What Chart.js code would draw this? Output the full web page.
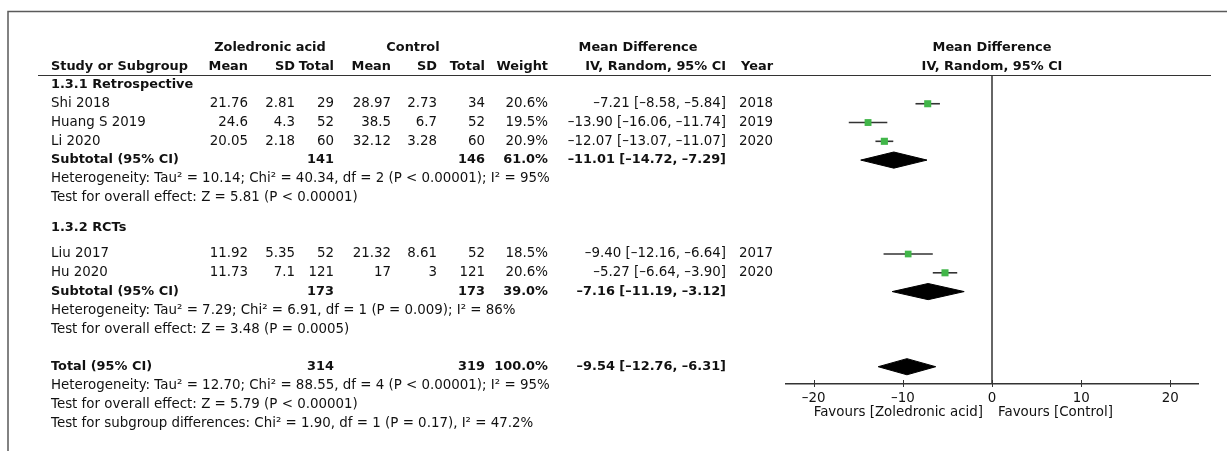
<!DOCTYPE html>
<html><head><meta charset="utf-8">
<script src="https://cdn.jsdelivr.net/npm/chart.js@4/dist/chart.umd.min.js"></script>
<style>html,body{margin:0;padding:0;background:#fff}#wrap{width:1227px;height:451px;position:relative}</style>
</head><body><div id="wrap"><canvas id="c" width="1227" height="451"></canvas></div>
<script>
// ---------- data ----------
const groupNames = ["1.3.1 Retrospective", "1.3.2 RCTs"];
const studies = ["Shi 2018", "Huang S 2019", "Li 2020", "Liu 2017", "Hu 2020"];
const studyGroup = [0, 0, 0, 1, 1];
const zMean = [21.76, 24.6, 20.05, 11.92, 11.73];
const zSD = [2.81, 4.3, 2.18, 5.35, 7.1];
const zN = [29, 52, 60, 52, 121];
const cMean = [28.97, 38.5, 32.12, 21.32, 17];
const cSD = [2.73, 6.7, 3.28, 8.61, 3];
const cN = [34, 52, 60, 52, 121];
const weights = [20.6, 19.5, 20.9, 18.5, 20.6];
const md = [-7.21, -13.90, -12.07, -9.40, -5.27];
const mdLo = [-8.58, -16.06, -13.07, -12.16, -6.64];
const mdHi = [-5.84, -11.74, -11.07, -6.64, -3.90];
const years = [2018, 2019, 2020, 2017, 2020];

const subZN = [141, 173];
const subCN = [146, 173];
const subW = [61.0, 39.0];
const subMD = [-11.01, -7.16];
const subLo = [-14.72, -11.19];
const subHi = [-7.29, -3.12];
const subHet = [
  "Heterogeneity: Tau² = 10.14; Chi² = 40.34, df = 2 (P < 0.00001); I² = 95%",
  "Heterogeneity: Tau² = 7.29; Chi² = 6.91, df = 1 (P = 0.009); I² = 86%"
];
const subTest = [
  "Test for overall effect: Z = 5.81 (P < 0.00001)",
  "Test for overall effect: Z = 3.48 (P = 0.0005)"
];

const totZN = 314, totCN = 319, totW = 100.0;
const totMD = -9.54, totLo = -12.76, totHi = -6.31;
const totNotes = [
  "Heterogeneity: Tau² = 12.70; Chi² = 88.55, df = 4 (P < 0.00001); I² = 95%",
  "Test for overall effect: Z = 5.79 (P < 0.00001)",
  "Test for subgroup differences: Chi² = 1.90, df = 1 (P = 0.17), I² = 47.2%"
];
const xTicks = [-20, -10, 0, 10, 20];
const favours = ["Favours [Zoledronic acid]", "Favours [Control]"];

// ---------- layout (rows) ----------
const ROW = {
  head1: -2, head2: -1,
  groupHead: [0, 7.6],
  studyRows: [1, 2, 3, 9, 10],
  sub: [4, 11], het: [5, 12], test: [6, 13],
  total: 15, totNotes: [16, 17, 18]
};
const COL = {study: 51, zMean: 248, zSD: 295, zN: 334, cMean: 391, cSD: 437, cN: 485, w: 548, ci: 726, year: 773};
const FAM = '"DejaVu Sans", sans-serif';
const FS = 13.4;
const FSB = 12.9;
const DIAM_H = 0.43;

const neg = s => s.replace(/-/g, '\u2013');
const f2 = v => neg(v.toFixed(2));
const ciStr = (m, l, h) => `${f2(m)} [${f2(l)}, ${f2(h)}]`;

// ---------- datasets ----------
const datasets = [];
studies.forEach((s, i) => {
  datasets.push({
    data: [{x: mdLo[i], y: ROW.studyRows[i]}, {x: mdHi[i], y: ROW.studyRows[i]}],
    showLine: true, borderColor: '#333', borderWidth: 1.6, pointRadius: 0, order: 3
  });
});
datasets.push({
  data: studies.map((s, i) => ({x: md[i], y: ROW.studyRows[i]})),
  pointStyle: 'rect',
  pointRadius: weights.map(w => 1.1 * Math.sqrt(w)),
  backgroundColor: '#41b649', borderColor: '#41b649', borderWidth: 0, order: 2
});
function diamond(m, l, h, r) {
  return {
    data: [{x: l, y: r}, {x: m, y: r - DIAM_H}, {x: h, y: r}, {x: m, y: r + DIAM_H}, {x: l, y: r}],
    showLine: true, fill: 'shape', backgroundColor: '#000', borderColor: '#000',
    borderWidth: 1, pointRadius: 0, tension: 0, order: 1
  };
}
subMD.forEach((m, g) => datasets.push(diamond(m, subLo[g], subHi[g], ROW.sub[g])));
datasets.push(diamond(totMD, totLo, totHi, ROW.total));

// ---------- table plugin ----------
const tablePlugin = {
  id: 'table',
  afterDraw(chart) {
    const ctx = chart.ctx, y = chart.scales.y, x = chart.scales.x;
    const T = (s, px, py, align, bold) => {
      ctx.font = (bold ? 'bold ' + FSB : FS) + 'px ' + FAM;
      ctx.textAlign = align; ctx.textBaseline = 'middle'; ctx.fillStyle = '#111';
      ctx.fillText(s, px, py);
    };
    const R = (s, px, r, align, bold) => T(s, px, y.getPixelForValue(r), align, bold);
    ctx.save();
    // frame
    ctx.strokeStyle = '#5a5a5a'; ctx.lineWidth = 1.5;
    ctx.beginPath(); ctx.moveTo(8, 451); ctx.lineTo(8, 11.5); ctx.lineTo(1227, 11.5); ctx.stroke();
    // header underline
    ctx.strokeStyle = '#333'; ctx.lineWidth = 1.2;
    ctx.beginPath(); ctx.moveTo(38, 75.5); ctx.lineTo(1211, 75.5); ctx.stroke();
    // headers
    R('Zoledronic acid', 270, ROW.head1, 'center', true);
    R('Control', 413, ROW.head1, 'center', true);
    R('Mean Difference', 638, ROW.head1, 'center', true);
    R('Mean Difference', 992, ROW.head1, 'center', true);
    R('Study or Subgroup', COL.study, ROW.head2, 'left', true);
    R('Mean', COL.zMean, ROW.head2, 'right', true);
    R('SD', COL.zSD, ROW.head2, 'right', true);
    R('Total', COL.zN, ROW.head2, 'right', true);
    R('Mean', COL.cMean, ROW.head2, 'right', true);
    R('SD', COL.cSD, ROW.head2, 'right', true);
    R('Total', COL.cN, ROW.head2, 'right', true);
    R('Weight', COL.w, ROW.head2, 'right', true);
    R('IV, Random, 95% CI', COL.ci, ROW.head2, 'right', true);
    R('Year', COL.year, ROW.head2, 'right', true);
    R('IV, Random, 95% CI', 992, ROW.head2, 'center', true);
    // groups
    groupNames.forEach((g, gi) => {
      R(g, COL.study, ROW.groupHead[gi], 'left', true);
      R('Subtotal (95% CI)', COL.study, ROW.sub[gi], 'left', true);
      R(String(subZN[gi]), COL.zN, ROW.sub[gi], 'right', true);
      R(String(subCN[gi]), COL.cN, ROW.sub[gi], 'right', true);
      R(subW[gi].toFixed(1) + '%', COL.w, ROW.sub[gi], 'right', true);
      R(ciStr(subMD[gi], subLo[gi], subHi[gi]), COL.ci, ROW.sub[gi], 'right', true);
      R(subHet[gi], COL.study, ROW.het[gi], 'left', false);
      R(subTest[gi], COL.study, ROW.test[gi], 'left', false);
    });
    studies.forEach((s, i) => {
      const r = ROW.studyRows[i];
      R(s, COL.study, r, 'left');
      R(String(zMean[i]), COL.zMean, r, 'right');
      R(String(zSD[i]), COL.zSD, r, 'right');
      R(String(zN[i]), COL.zN, r, 'right');
      R(String(cMean[i]), COL.cMean, r, 'right');
      R(String(cSD[i]), COL.cSD, r, 'right');
      R(String(cN[i]), COL.cN, r, 'right');
      R(weights[i].toFixed(1) + '%', COL.w, r, 'right');
      R(ciStr(md[i], mdLo[i], mdHi[i]), COL.ci, r, 'right');
      R(String(years[i]), COL.year, r, 'right');
    });
    // total
    R('Total (95% CI)', COL.study, ROW.total, 'left', true);
    R(String(totZN), COL.zN, ROW.total, 'right', true);
    R(String(totCN), COL.cN, ROW.total, 'right', true);
    R(totW.toFixed(1) + '%', COL.w, ROW.total, 'right', true);
    R(ciStr(totMD, totLo, totHi), COL.ci, ROW.total, 'right', true);
    totNotes.forEach((n, k) => R(n, COL.study, ROW.totNotes[k], 'left', false));
    // tick marks crossing axis
    ctx.strokeStyle = '#333'; ctx.lineWidth = 1;
    x.ticks.forEach(t => {
      const px = Math.round(x.getPixelForValue(t.value)) + 0.5;
      ctx.beginPath(); ctx.moveTo(px, x.top - 4); ctx.lineTo(px, x.top + 3); ctx.stroke();
    });
    // favours
    const z = x.getPixelForValue(0);
    T(favours[0], z - 9, x.top + 29, 'right');
    T(favours[1], z + 6, x.top + 29, 'left');
    ctx.restore();
  }
};

new Chart(document.getElementById('c'), {
  type: 'scatter',
  data: {datasets},
  options: {
    responsive: false, animation: false, devicePixelRatio: 1,
    layout: {padding: {left: 786, right: 29, top: 75, bottom: 0}},
    plugins: {legend: {display: false}, tooltip: {enabled: false}},
    scales: {
      x: {
        type: 'linear', min: -23.1, max: 23.1,
        afterBuildTicks: s => { s.ticks = xTicks.map(v => ({value: v})); },
        afterFit: s => { s.height = 67; },
        ticks: {
          padding: 6, color: '#111', font: {family: FAM, size: FS},
          callback: v => neg(String(v)), maxRotation: 0
        },
        grid: {
          drawTicks: false,
          color: c => (c.tick && c.tick.value === 0) ? '#666' : 'rgba(0,0,0,0)',
          lineWidth: 2
        },
        border: {color: '#333', width: 1.5}
      },
      y: {type: 'linear', reverse: true, min: -0.53, max: 15.92, display: false}
    }
  },
  plugins: [tablePlugin]
});
</script>
</body></html>
